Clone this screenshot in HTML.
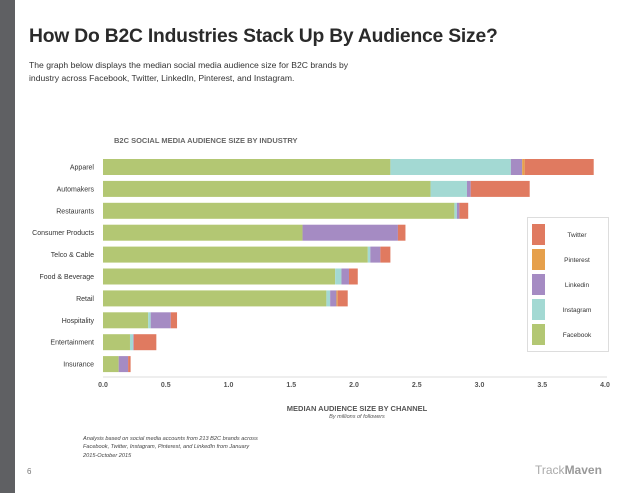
<!DOCTYPE html>
<html><head><meta charset="utf-8"><style>
body{margin:0;width:638px;height:493px;background:#fff;font-family:"Liberation Sans",sans-serif;position:relative;overflow:hidden;color:#333}
.a{position:absolute;white-space:nowrap}
</style></head><body>
<div class="a" style="left:0;top:0;width:15px;height:493px;background:#5f6063"></div>
<div class="a" style="left:29px;top:26px;font-size:19.3px;font-weight:bold;color:#2a2a2a;letter-spacing:-0.2px">How Do B2C Industries Stack Up By Audience Size?</div>
<div class="a" style="left:29px;top:59px;font-size:8.6px;line-height:12.5px;color:#333">The graph below displays the median social media audience size for B2C brands by<br>industry across Facebook, Twitter, LinkedIn, Pinterest, and Instagram.</div>
<div class="a" style="left:114px;top:136px;font-size:7.5px;font-weight:bold;color:#666">B2C SOCIAL MEDIA AUDIENCE SIZE BY INDUSTRY</div>
<svg class="a" style="left:0;top:0" width="638" height="493" id="chart"></svg>
<div class="a" style="left:227px;top:404px;width:260px;text-align:center;font-size:7.5px;font-weight:bold;color:#555">MEDIAN AUDIENCE SIZE BY CHANNEL</div>
<div class="a" style="left:227px;top:414px;width:260px;text-align:center;font-size:5.5px;font-style:italic;color:#555">By millions of followers</div>
<div class="a" style="left:83px;top:435px;font-size:5.6px;line-height:8.3px;font-style:italic;color:#444">Analysis based on social media accounts from 213 B2C brands across<br>Facebook, Twitter, Instagram, Pinterest, and LinkedIn from January<br>2015-October 2015</div>
<div class="a" style="left:27px;top:467px;font-size:8px;color:#777">6</div>
<div class="a" style="left:535px;top:463px;font-size:12px;color:#aaa">Track<span style="color:#999;font-weight:bold">Maven</span></div>
<script>
const categories=["Apparel","Automakers","Restaurants","Consumer Products","Telco & Cable","Food & Beverage","Retail","Hospitality","Entertainment","Insurance"];
const facebook=[2.29,2.61,2.80,1.59,2.11,1.85,1.78,0.36,0.215,0.125];
const instagram=[0.96,0.29,0.02,0,0.02,0.05,0.03,0.02,0.025,0];
const linkedin=[0.09,0.03,0.02,0.76,0.08,0.06,0.05,0.16,0.005,0.075];
const pinterest=[0.02,0,0,0,0,0,0.01,0,0,0];
const twitter=[0.55,0.47,0.07,0.06,0.08,0.07,0.08,0.05,0.18,0.02];
const ticks=["0.0","0.5","1.0","1.5","2.0","2.5","3.0","3.5","4.0"];
const tickVals=[0,0.5,1,1.5,2,2.5,3,3.5,4];
const seriesNames=["Twitter","Pinterest","Linkedin","Instagram","Facebook"];
const colors={Facebook:"#b3c773",Instagram:"#a3d9d3",Linkedin:"#a58bc3",Pinterest:"#e6a04b",Twitter:"#e07a60"};
const svg=document.getElementById('chart');const NS="http://www.w3.org/2000/svg";
const x=v=>103+v*125.5;const y=i=>159+i*21.9;
function mk(t,a){const e=document.createElementNS(NS,t);for(const k in a)e.setAttribute(k,a[k]);svg.appendChild(e);return e;}
const ax=mk('line',{x1:103,x2:607,y1:377,y2:377,stroke:'#ddd','stroke-width':1});


tickVals.forEach((v,i)=>{const t=mk('text',{x:x(v),y:387,'text-anchor':'middle','font-size':7,'font-weight':'bold',fill:'#555','font-family':'Liberation Sans'});t.textContent=ticks[i];

});
const order=[["Facebook",facebook],["Instagram",instagram],["Linkedin",linkedin],["Pinterest",pinterest],["Twitter",twitter]];
categories.forEach((c,i)=>{
const l=mk('text',{x:94,y:y(i)+10.5,'text-anchor':'end','font-size':7,fill:'#333','font-family':'Liberation Sans'});l.textContent=c;


let acc=0;order.forEach(([n,arr])=>{const v=arr[i];if(v>0){const r=mk('rect',{x:x(acc),y:y(i),width:x(acc+v)-x(acc),height:16,fill:colors[n]});

}acc+=v;});
});
const lg=mk('rect',{x:527.5,y:217.5,width:81,height:134,fill:'#fff',stroke:'#ddd'});


seriesNames.forEach((n,i)=>{const yy=224+i*25;
const r=mk('rect',{x:532,y:yy,width:13,height:21,fill:colors[n]});


const t=mk('text',{x:577,y:yy+13,'text-anchor':'middle','font-size':6.5,fill:'#333','font-family':'Liberation Sans'});t.textContent=n;

});
</script>
</body></html>
